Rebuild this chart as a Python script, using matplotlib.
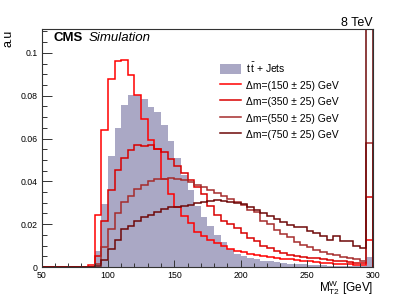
import numpy as np
import matplotlib
matplotlib.use("Agg")
import matplotlib.pyplot as plt
from matplotlib.ticker import MultipleLocator, FixedLocator, FixedFormatter

plt.rcParams['font.family'] = ['Liberation Sans', 'DejaVu Sans']
plt.rcParams['mathtext.fontset'] = 'custom'
plt.rcParams['mathtext.rm'] = 'Liberation Sans'
plt.rcParams['mathtext.it'] = 'Liberation Sans:italic'

# MT2W binning: 5 GeV bins from 50 to 300 GeV (last bin holds the overflow)
bin_edges = np.arange(50, 301, 5)

# ttbar + jets (filled)
ttbar = [0, 0, 0, 0, 0, 0, 0,
         0.0005, 0.0077, 0.0295, 0.052, 0.065, 0.0758, 0.0801, 0.0805, 0.0786, 0.0745,
         0.0723, 0.0665, 0.0588, 0.051, 0.043, 0.0358, 0.0285, 0.0235, 0.019, 0.0148,
         0.0118, 0.0082, 0.0062, 0.0052, 0.0044, 0.0036, 0.003, 0.0026, 0.0022, 0.0019,
         0.0016, 0.0014, 0.0012, 0.001, 0.0009, 0.0008, 0.0007, 0.0006, 0.0005, 0.0005,
         0.0004, 0.0004, 0.0048]

dm150 = [0, 0, 0, 0, 0, 0, 0,
         0.0008, 0.0244, 0.0638, 0.0879, 0.0964, 0.0968, 0.0895, 0.0801, 0.0689, 0.0594,
         0.0552, 0.0412, 0.0342, 0.0278, 0.0236, 0.0205, 0.0165, 0.0145, 0.0128, 0.011,
         0.0098, 0.0085, 0.0076, 0.007, 0.0063, 0.0056, 0.0051, 0.0046, 0.0042, 0.0039,
         0.0036, 0.0033, 0.003, 0.0027, 0.0024, 0.0021, 0.0019, 0.0016, 0.0014, 0.0012,
         0.001, 0.0009, 0.0127]

dm350 = [0, 0, 0, 0, 0, 0, 0,
         0.0, 0.005, 0.0217, 0.036, 0.0452, 0.0508, 0.0548, 0.0571, 0.0565, 0.0568,
         0.0552, 0.0535, 0.0506, 0.0474, 0.0439, 0.0404, 0.0372, 0.034, 0.0285, 0.0242,
         0.0215, 0.0202, 0.018, 0.0158, 0.0136, 0.012, 0.0098, 0.0088, 0.0075, 0.0065,
         0.0058, 0.0052, 0.0048, 0.0043, 0.004, 0.0036, 0.0032, 0.003, 0.0027, 0.0024,
         0.0021, 0.0019, 0.0326]

dm550 = [0, 0, 0, 0, 0, 0, 0,
         0.0, 0.0015, 0.0093, 0.0178, 0.0252, 0.0303, 0.033, 0.0362, 0.0385, 0.04,
         0.0412, 0.041, 0.0415, 0.041, 0.0405, 0.0398, 0.0385, 0.0375, 0.036, 0.0345,
         0.0333, 0.0318, 0.0305, 0.029, 0.0264, 0.0256, 0.0217, 0.0202, 0.0171, 0.0155,
         0.014, 0.0116, 0.0105, 0.0093, 0.008, 0.0072, 0.0062, 0.0058, 0.0049, 0.0044,
         0.0038, 0.003, 0.0577]

dm750 = [0, 0, 0, 0, 0, 0, 0,
         0.0, 0.0007, 0.0035, 0.0085, 0.0127, 0.0178, 0.019, 0.0215, 0.0235, 0.0245,
         0.0255, 0.027, 0.0278, 0.028, 0.0285, 0.029, 0.0298, 0.0305, 0.031, 0.0315,
         0.031, 0.0305, 0.03, 0.0295, 0.0278, 0.0265, 0.0252, 0.0238, 0.0225, 0.021,
         0.0198, 0.0186, 0.0186, 0.0166, 0.0158, 0.0147, 0.0128, 0.0143, 0.0121, 0.012,
         0.01, 0.009, 0.15]

signal_labels = ['Δm=(150 ± 25) GeV', 'Δm=(350 ± 25) GeV',
                 'Δm=(550 ± 25) GeV', 'Δm=(750 ± 25) GeV']
signal_colors = ['#ff0000', '#d80000', '#a52c2c', '#6e0808']

xticks = [50, 100, 150, 200, 250, 300]
yticks = [0, 0.02, 0.04, 0.06, 0.08, 0.1]
ytick_labels = ['0', '0.02', '0.04', '0.06', '0.08', '0.1']

fig = plt.figure(figsize=(4.15, 2.98), dpi=100)
ax = fig.add_axes([0.1005, 0.104, 0.7985, 0.7976])

ax.stairs(ttbar, bin_edges, fill=True, color='#aaa8c5', label=r'$\mathregular{t\,\bar{t}}$ + Jets')
for vals, lab, col in zip([dm150, dm350, dm550, dm750], signal_labels, signal_colors):
    ax.stairs(vals, bin_edges, color=col, lw=1.1, label=lab)

ax.set_xlim(50, 300)
ax.set_ylim(0, 0.111)

ax.xaxis.set_major_locator(FixedLocator(xticks))
ax.xaxis.set_minor_locator(MultipleLocator(10))
ax.yaxis.set_major_locator(FixedLocator(yticks))
ax.yaxis.set_major_formatter(FixedFormatter(ytick_labels))
ax.yaxis.set_minor_locator(MultipleLocator(0.005))
ax.tick_params(axis='both', which='both', direction='in', colors='#333333',
               labelcolor='black', labelsize=6.3, width=0.7)
ax.tick_params(axis='x', which='major', length=5.3, pad=3)
ax.tick_params(axis='x', which='minor', length=3)
ax.tick_params(axis='y', which='major', length=7, pad=3)
ax.tick_params(axis='y', which='minor', length=3.6)
for s in ax.spines.values():
    s.set_linewidth(0.8)
    s.set_color('#333333')

ax.set_ylabel('a.u', fontsize=9, loc='top', labelpad=4)
ax.set_xlabel(r'$\mathregular{M_{T2}^{W}}$ [GeV]', fontsize=8.5, loc='right', labelpad=-1)

ax.text(0.035, 0.99, 'CMS', transform=ax.transAxes, fontsize=9.5, fontweight='bold',
        va='top', ha='left')
ax.text(0.143, 0.99, 'Simulation', transform=ax.transAxes, fontsize=9.5, style='italic',
        va='top', ha='left')
ax.text(1.0, 1.0, '8 TeV', transform=ax.transAxes, fontsize=9, va='bottom', ha='right')

ax.legend(loc='upper left', bbox_to_anchor=(0.525, 0.885), frameon=False, fontsize=7.5,
          handlelength=2.0, handleheight=1.1, handletextpad=0.5, labelspacing=0.55,
          borderaxespad=0)

fig.savefig('out.png', dpi=100)
